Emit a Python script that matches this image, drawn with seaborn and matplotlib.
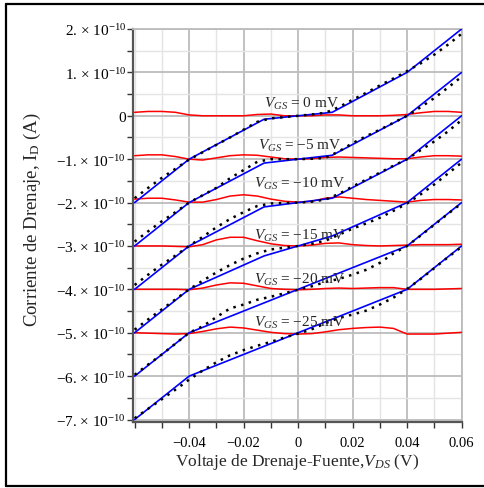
import matplotlib
matplotlib.use("Agg")
import matplotlib.pyplot as plt
import pandas as pd
import seaborn as sns
from matplotlib.ticker import FixedLocator, FixedFormatter
from matplotlib.lines import Line2D

sns.set_theme(style="white")
plt.rcParams["font.family"] = ["Liberation Serif", "DejaVu Serif"]
plt.rcParams["mathtext.fontset"] = "custom"
plt.rcParams["mathtext.rm"] = "Liberation Serif"
plt.rcParams["mathtext.it"] = "Liberation Serif:italic"
plt.rcParams["mathtext.bf"] = "Liberation Serif:bold"

# Gate-source voltages (mV); currents are in units of 1e-10 A
vgs_mv = [0, -5, -10, -15, -20, -25]

# Sampled drain-source voltages (V) for the measured and residual curves
vds = [-0.06, -0.055, -0.05, -0.045, -0.04, -0.035, -0.03, -0.025, -0.02,
       -0.015, -0.01, -0.005, 0.0, 0.005, 0.01, 0.015, 0.02, 0.025, 0.03,
       0.035, 0.04, 0.045, 0.05, 0.055, 0.06]

# Measured drain current (dotted)
dots_0 = [-1.90, -1.66, -1.43, -1.22, -1.01, -0.84, -0.67, -0.50, -0.32, -0.14, -0.06, -0.03, 0.00,
          0.03, 0.07, 0.20, 0.37, 0.53, 0.70, 0.86, 1.03, 1.21, 1.41, 1.64, 1.89]
dots_m5 = [-2.90, -2.66, -2.43, -2.22, -2.00, -1.83, -1.66, -1.44, -1.25, -1.06, -1.00, -1.00, -1.00,
           -0.99, -0.97, -0.82, -0.63, -0.47, -0.32, -0.16, 0.00, 0.20, 0.41, 0.65, 0.90]
dots_m10 = [-3.90, -3.66, -3.43, -3.22, -3.00, -2.79, -2.57, -2.38, -2.22, -2.08, -2.02, -2.01, -2.00,
            -1.98, -1.93, -1.80, -1.63, -1.47, -1.31, -1.15, -1.00, -0.79, -0.59, -0.36, -0.10]
dots_m15 = [-4.93, -4.69, -4.46, -4.23, -4.00, -3.80, -3.61, -3.44, -3.29, -3.17, -3.08, -3.04, -3.00,
            -2.95, -2.88, -2.74, -2.60, -2.48, -2.35, -2.19, -2.02, -1.81, -1.58, -1.33, -1.08]
dots_m20 = [-5.97, -5.73, -5.50, -5.25, -5.00, -4.85, -4.64, -4.44, -4.35, -4.24, -4.17, -4.09, -4.01,
            -3.93, -3.83, -3.76, -3.66, -3.55, -3.39, -3.17, -3.00, -2.76, -2.51, -2.26, -2.02]
dots_m25 = [-6.97, -6.75, -6.53, -6.31, -6.08, -5.87, -5.68, -5.52, -5.40, -5.30, -5.21, -5.11, -5.02,
            -4.92, -4.78, -4.66, -4.58, -4.49, -4.35, -4.19, -3.99, -3.76, -3.51, -3.26, -3.02]

# Residual curves (red)
red_0 = [0.08, 0.10, 0.10, 0.08, 0.02, 0.00, 0.00, 0.00, 0.00, 0.03, 0.04, 0.00, 0.00,
         0.00, 0.02, 0.02, 0.00, 0.00, 0.00, 0.01, 0.03, 0.07, 0.10, 0.10, 0.08]
red_m5 = [-0.92, -0.90, -0.90, -0.94, -1.00, -1.02, -0.97, -0.92, -0.90, -0.91, -0.95, -0.99, -1.00,
          -0.99, -0.96, -0.95, -0.96, -0.97, -0.98, -0.99, -0.99, -0.95, -0.92, -0.92, -0.93]
red_m10 = [-1.92, -1.90, -1.90, -1.94, -1.99, -1.99, -1.93, -1.85, -1.82, -1.85, -1.92, -1.97, -1.99,
           -1.97, -1.90, -1.87, -1.90, -1.93, -1.95, -1.97, -1.99, -1.95, -1.93, -1.93, -1.94]
red_m15 = [-3.00, -3.00, -3.00, -3.01, -3.02, -2.97, -2.86, -2.80, -2.80, -2.88, -2.95, -2.99, -3.00,
           -2.98, -2.94, -2.93, -2.97, -2.99, -3.00, -2.99, -2.98, -2.97, -2.97, -2.97, -2.96]
red_m20 = [-4.00, -4.00, -4.00, -4.00, -4.01, -3.97, -3.90, -3.85, -3.86, -3.92, -3.98, -4.00, -4.01,
           -4.00, -3.98, -3.97, -3.98, -3.97, -3.96, -3.96, -4.00, -4.00, -4.00, -3.99, -3.98]
red_m25 = [-5.00, -5.01, -5.02, -5.03, -5.02, -4.97, -4.91, -4.87, -4.89, -4.94, -4.99, -5.02, -5.03,
           -5.02, -4.98, -4.93, -4.90, -4.88, -4.87, -4.90, -5.03, -5.03, -5.03, -5.01, -4.99]

# Piecewise-linear model (blue): breakpoints
knee_vds = [-0.06, -0.04, -0.0125, 0.0125, 0.04, 0.06]
line_vds = [-0.06, -0.04, 0.04, 0.06]
model_0 = [-2.0, -1.0, -0.08, 0.08, 1.0, 2.0]
model_m5 = [-3.0, -2.0, -1.09, -0.91, 0.0, 1.0]
model_m10 = [-4.0, -3.0, -2.10, -1.90, -1.0, 0.0]
model_m15 = [-5.0, -4.0, -3.23, -2.77, -2.0, -1.0]
model_m20 = [-6.0, -5.0, -3.0, -2.0]
model_m25 = [-7.0, -6.0, -4.0, -3.0]

# Label anchor (left edge x in V, baseline y in 1e-10 A)
label_x = [-0.0127, -0.0146, -0.0161, -0.0161, -0.0161, -0.0161]
label_y = [0.20, -0.76, -1.63, -2.84, -3.84, -4.84]

dots = [dots_0, dots_m5, dots_m10, dots_m15, dots_m20, dots_m25]
reds = [red_0, red_m5, red_m10, red_m15, red_m20, red_m25]
models = [model_0, model_m5, model_m10, model_m15, model_m20, model_m25]
model_x = [knee_vds, knee_vds, knee_vds, knee_vds, line_vds, line_vds]


def long_frame(xs_list, ys_list):
    rows = []
    for v, xs, ys in zip(vgs_mv, xs_list, ys_list):
        for x, y in zip(xs, ys):
            rows.append({"vgs": v, "vds": x, "id": y})
    return pd.DataFrame(rows)


df_dots = long_frame([vds] * 6, dots)
df_red = long_frame([vds] * 6, reds)
df_model = long_frame(model_x, models)

W, H = 484, 489
fig = plt.figure(figsize=(W / 100, H / 100), dpi=100)
fig.patch.set_facecolor("white")

ax_l, ax_r, ax_t, ax_b = 133, 461.6, 30, 422.7
ax = fig.add_axes([ax_l / W, 1 - ax_b / H, (ax_r - ax_l) / W, (ax_b - ax_t) / H])
ax.set_facecolor("white")

sns.lineplot(data=df_red, x="vds", y="id", units="vgs", estimator=None, sort=False,
             color="#ff0000", lw=1.1, legend=False, ax=ax, zorder=3)
sns.lineplot(data=df_model, x="vds", y="id", units="vgs", estimator=None, sort=False,
             color="#0000ff", lw=1.2, legend=False, ax=ax, zorder=4)
sns.lineplot(data=df_dots, x="vds", y="id", units="vgs", estimator=None, sort=False,
             color="black", lw=1.8, linestyle=(0, (1, 2.2)), dash_capstyle="butt",
             legend=False, ax=ax, zorder=5)

ax.set_xlim(-0.0606, 0.06)
ax.set_ylim(-7.05, 2.0)

xmaj = [-0.04, -0.02, 0.0, 0.02, 0.04, 0.06]
xmin = [-0.06, -0.05, -0.03, -0.01, 0.01, 0.03, 0.05]
ymaj = [-7, -6, -5, -4, -3, -2, -1, 0, 1, 2]
ymin = [-6.5, -5.5, -4.5, -3.5, -2.5, -1.5, -0.5, 0.5, 1.5]

ax.xaxis.set_major_locator(FixedLocator(xmaj))
ax.xaxis.set_minor_locator(FixedLocator(xmin))
ax.yaxis.set_major_locator(FixedLocator(ymaj))
ax.yaxis.set_minor_locator(FixedLocator(ymin))

xlabels = ["\u22120.04", "\u22120.02", "0", "0.02", "0.04", "0.06"]
ylabels = []
for v in ymaj:
    if v == 0:
        ylabels.append("0")
    elif v < 0:
        ylabels.append("\u2212%d. \u00d7 10$^{-10}$" % (-v))
    else:
        ylabels.append("%d. \u00d7 10$^{-10}$" % v)
ax.xaxis.set_major_formatter(FixedFormatter(xlabels))
ax.yaxis.set_major_formatter(FixedFormatter(ylabels))

ax.grid(which="major", color="#bcbcbc", lw=1.3, zorder=0)
ax.grid(which="minor", color="#e4e4e4", lw=1.0, zorder=0)
ax.set_axisbelow(True)

ax.tick_params(axis="both", which="both", direction="out", length=4, width=1,
               color="#333333", bottom=True, left=True, top=False, right=False)
ax.tick_params(axis="x", which="major", labelsize=10.5, pad=6, labelcolor="black")
ax.tick_params(axis="y", which="major", labelsize=11, pad=1, labelcolor="black")

for side in ("left", "bottom"):
    ax.spines[side].set_color("#555555")
    ax.spines[side].set_linewidth(1.6)
for side in ("top", "right"):
    ax.spines[side].set_color("#bcbcbc")
    ax.spines[side].set_linewidth(1.3)

ax.set_xlabel("")
ax.set_ylabel("")

for v, lx, ly in zip(vgs_mv, label_x, label_y):
    if v == 0:
        s = "$V_{GS}$ = 0 mV"
    else:
        s = "$V_{GS}$ = \u2212%d mV" % (-v)
    ax.text(lx, ly, s, fontsize=11, ha="left", va="baseline", zorder=6)

fig.text(297 / W, 1 - 466 / H, "Voltaje de Drenaje-Fuente,$V_{DS}$ (V)",
         fontsize=12.5, ha="center", va="baseline")
fig.text(32 / W, 1 - 220 / H, "Corriente de Drenaje, I$_\\mathrm{D}$ (A)",
         fontsize=13.5, ha="center", va="center", rotation=90)

# Outer frame (left, top, bottom edges)
frame_kw = dict(color="black", lw=1.6, transform=fig.transFigure)
fig.add_artist(Line2D([6 / W, 6 / W], [1 - 5 / H, 1 - 486.5 / H], **frame_kw))
fig.add_artist(Line2D([6 / W, 1.0], [1 - 5 / H, 1 - 5 / H], **frame_kw))
fig.add_artist(Line2D([6 / W, 1.0], [1 - 486.5 / H, 1 - 486.5 / H], **frame_kw))

fig.savefig("out.png", dpi=100)
